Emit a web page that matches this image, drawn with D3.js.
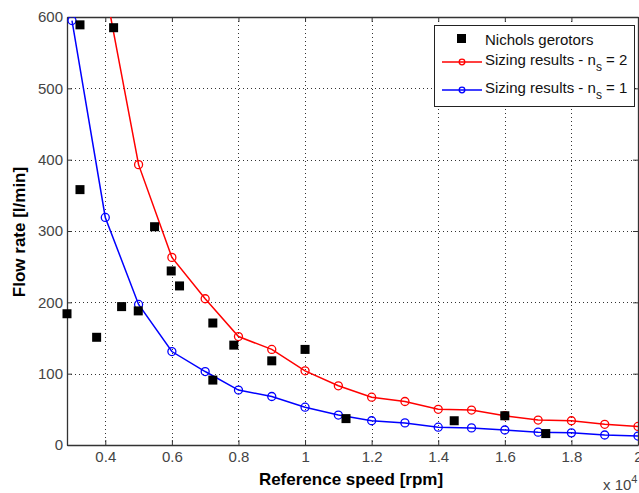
<!DOCTYPE html>
<html>
<head>
<meta charset="utf-8">
<script src="https://cdn.jsdelivr.net/npm/d3@7"></script>
<style>
  body { margin: 0; background: #fff; }
  svg { font-family: Arial, "Liberation Sans", sans-serif; }
</style>
</head>
<body>
<svg id="chart" width="639" height="493"></svg>
<script>
// speeds in rpm, flow in l/min
var nicholsSpeed = [2850, 3240, 3240, 3740, 4250, 4490, 4990, 5480, 5980, 6230, 7230, 7230, 7860, 9000, 10000, 11230, 14480, 16000, 17230];
var nicholsFlow  = [184, 589, 358, 151, 585, 194, 188, 306, 244, 223, 171, 91, 140, 118, 134, 37, 34, 41, 16];

var sizingSpeed = [4000, 5000, 6000, 7000, 8000, 9000, 10000, 11000, 12000, 13000, 14000, 15000, 16000, 17000, 18000, 19000, 20000];
var flowNs2 = [640, 393, 263, 205, 152, 134, 104, 83, 67, 61, 50, 49, 41, 35, 34, 29, 26];

var blueSpeed = [3000, 4000, 5000, 6000, 7000, 8000, 9000, 10000, 11000, 12000, 13000, 14000, 15000, 16000, 17000, 18000, 19000, 20000];
var flowNs1 = [595, 319, 197, 131, 103, 77, 68, 53, 42, 34, 31, 25, 24, 21, 18, 17, 14, 12.5];

var xTicks = [4000, 6000, 8000, 10000, 12000, 14000, 16000, 18000, 20000];
var yTicks = [0, 100, 200, 300, 400, 500, 600];

var svg = d3.select("#chart");
var pLeft = 67, pRight = 638, pTop = 17, pBottom = 445;

var x = d3.scaleLinear().domain([2850, 20000]).range([pLeft, pRight]);
var y = d3.scaleLinear().domain([0, 600]).range([pBottom, pTop]);

svg.append("defs").append("clipPath").attr("id", "clip")
  .append("rect").attr("x", pLeft).attr("y", pTop).attr("width", pRight - pLeft).attr("height", pBottom - pTop);

// grid
var grid = svg.append("g").attr("stroke", "#333").attr("stroke-width", 1).attr("stroke-dasharray", "1,3");
grid.selectAll(".gx").data(xTicks.slice(0, -1)).enter().append("line")
  .attr("x1", function(d){ return Math.round(x(d)) + 0.5 }).attr("x2", function(d){ return Math.round(x(d)) + 0.5 })
  .attr("y1", pTop).attr("y2", pBottom);
grid.selectAll(".gy").data(yTicks.slice(1, -1)).enter().append("line")
  .attr("y1", function(d){ return Math.round(y(d)) + 0.5 }).attr("y2", function(d){ return Math.round(y(d)) + 0.5 })
  .attr("x1", pLeft).attr("x2", pRight);

// axes
var xAxis = d3.axisBottom(x).tickValues(xTicks).tickSizeInner(-5).tickSizeOuter(0)
  .tickPadding(6).tickFormat(function(d){ return d3.format("~g")(d / 10000) });
var yAxis = d3.axisLeft(y).tickValues(yTicks).tickSizeInner(-5).tickSizeOuter(0).tickPadding(4);

var gx = svg.append("g").attr("transform", "translate(0," + pBottom + ")").call(xAxis);
var gy = svg.append("g").attr("transform", "translate(" + pLeft + ",0)").call(yAxis);
var gxTop = svg.append("g").attr("transform", "translate(0," + pTop + ")")
  .call(d3.axisTop(x).tickValues(xTicks).tickSizeInner(-5).tickSizeOuter(0).tickFormat(""));
var gyRight = svg.append("g").attr("transform", "translate(" + pRight + ",0)")
  .call(d3.axisRight(y).tickValues(yTicks).tickSizeInner(-5).tickSizeOuter(0).tickFormat(""));

[gx, gy, gxTop, gyRight].forEach(function(g){
  g.select(".domain").attr("stroke", "#333").attr("stroke-width", 1.3);
  g.selectAll(".tick line").attr("stroke", "#333");
  g.selectAll("text").attr("fill", "#444").attr("font-size", 15).attr("font-family", "Arial, 'Liberation Sans', sans-serif");
});

// data
var plot = svg.append("g").attr("clip-path", "url(#clip)");
var line = d3.line().x(function(d){ return x(d[0]) }).y(function(d){ return y(d[1]) });

function drawSeries(xs, ys, color) {
  var pts = xs.map(function(v, i){ return [v, ys[i]] });
  plot.append("path").datum(pts).attr("d", line)
    .attr("fill", "none").attr("stroke", color).attr("stroke-width", 1.5);
  plot.selectAll(null).data(pts).enter().append("circle")
    .attr("cx", function(d){ return x(d[0]) }).attr("cy", function(d){ return y(d[1]) })
    .attr("r", 4).attr("fill", "none").attr("stroke", color).attr("stroke-width", 1.3);
}

svg.selectAll(".sq").data(nicholsSpeed).enter().append("rect")
  .attr("x", function(d){ return x(d) - 4.5 })
  .attr("y", function(d, i){ return y(nicholsFlow[i]) - 4.5 })
  .attr("width", 9).attr("height", 9).attr("fill", "#000");

drawSeries(sizingSpeed, flowNs2, "#ff0000");
drawSeries(blueSpeed, flowNs1, "#0000ff");

// labels
svg.append("text").attr("x", 351).attr("y", 485).attr("text-anchor", "middle")
  .attr("font-size", 17).attr("font-weight", "bold").attr("fill", "#000").text("Reference speed [rpm]");
svg.append("text").attr("transform", "translate(25,232) rotate(-90)").attr("text-anchor", "middle")
  .attr("font-size", 17).attr("font-weight", "bold").attr("fill", "#000").text("Flow rate [l/min]");
var exp = svg.append("text").attr("x", 603).attr("y", 490).attr("font-size", 15).attr("fill", "#444");
exp.append("tspan").text("x 10");
exp.append("tspan").attr("dy", -7).attr("font-size", 11).text("4");

// legend
var lg = svg.append("g").attr("font-size", 15).attr("fill", "#111");
lg.append("rect").attr("x", 434.5).attr("y", 25.5).attr("width", 200).attr("height", 81)
  .attr("fill", "#fff").attr("stroke", "#222").attr("stroke-width", 1);
lg.append("rect").attr("x", 457).attr("y", 34).attr("width", 9).attr("height", 9).attr("fill", "#000");
lg.append("text").attr("x", 485).attr("y", 45).text("Nichols gerotors");
[["#ff0000", 62, "2"], ["#0000ff", 90, "1"]].forEach(function(e){
  lg.append("line").attr("x1", 442).attr("x2", 482).attr("y1", e[1]).attr("y2", e[1])
    .attr("stroke", e[0]).attr("stroke-width", 1.5);
  lg.append("circle").attr("cx", 462).attr("cy", e[1]).attr("r", 2.8)
    .attr("fill", "none").attr("stroke", e[0]).attr("stroke-width", 1.3);
  var t = lg.append("text").attr("x", 485).attr("y", e[1] + 3);
  t.append("tspan").text("Sizing results - n");
  t.append("tspan").attr("dy", 6).attr("font-size", 12).text("s");
  t.append("tspan").attr("dy", -6).text(" = " + e[2]);
});
</script>
</body>
</html>
